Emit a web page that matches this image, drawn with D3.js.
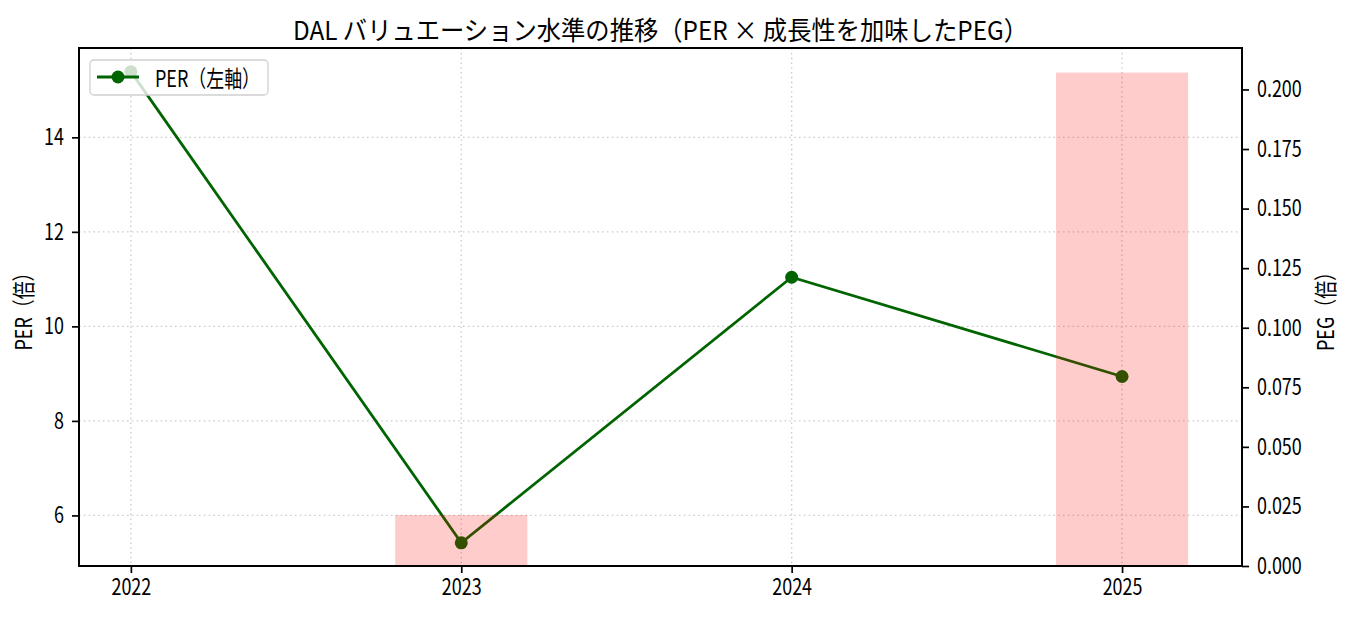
<!DOCTYPE html>
<html lang="ja">
<head>
<meta charset="UTF-8">
<title>DAL バリュエーション水準の推移</title>
<style>
  body { margin: 0; background: #fff; }
  text { font-family: "Noto Sans CJK JP", "DejaVu Sans", sans-serif; fill: #000; }
</style>
</head>
<body>
<script src="https://d3js.org/d3.v7.min.js"></script>
<script>
var width = 1351, height = 617;

// data
var years = [2022, 2023, 2024, 2025];
var perValues = [15.39, 5.42, 11.04, 8.94];
var pegYears = [2023, 2025];
var pegValues = [0.0214, 0.2071];
var perTicks = [6, 8, 10, 12, 14];
var pegTicks = [0, 0.025, 0.05, 0.075, 0.1, 0.125, 0.15, 0.175, 0.2];

var plot = {left: 79, right: 1242, top: 48, bottom: 566};
var sx = 0.78;     // squeeze text horizontally to mimic the narrow gothic font
var fs = 23;

var svg = d3.select("body").append("svg").attr("width", width).attr("height", height);

var x = d3.scaleLinear().domain([2021.843, 2025.363]).range([plot.left, plot.right]);
var yL = d3.scaleLinear().domain([4.93, 15.89]).range([plot.bottom, plot.top]);
var yR = d3.scaleLinear().domain([0, 0.2174]).range([plot.bottom, plot.top]);

// text placed at (px,py), squeezed in x
function label(px, py, str, anchor, size, rot) {
  var g = svg.append("g").attr("transform", "translate(" + px + "," + py + ")" + (rot ? " rotate(" + rot + ")" : ""));
  g.append("text").attr("transform", "scale(" + sx + ",1)")
    .attr("text-anchor", anchor).attr("dominant-baseline", "central")
    .attr("font-size", size).text(str);
  return g;
}

// grid
var grid = svg.append("g");
grid.selectAll("line.gx").data(years).enter().append("line")
  .attr("x1", function(d){ return x(d); }).attr("x2", function(d){ return x(d); })
  .attr("y1", plot.top).attr("y2", plot.bottom);
grid.selectAll("line.gy").data(perTicks).enter().append("line")
  .attr("x1", plot.left).attr("x2", plot.right)
  .attr("y1", function(d){ return yL(d); }).attr("y2", function(d){ return yL(d); });
grid.selectAll("line").attr("stroke", "#cccccc").attr("stroke-width", 1.3).attr("stroke-dasharray", "1.6,3.2");

// PER line
var line = d3.line().x(function(d, i){ return x(years[i]); }).y(function(d){ return yL(d); });
svg.append("path").datum(perValues)
  .attr("d", line).attr("fill", "none").attr("stroke", "#006400").attr("stroke-width", 2.8);
svg.selectAll("circle.per").data(perValues).enter().append("circle")
  .attr("cx", function(d, i){ return x(years[i]); })
  .attr("cy", function(d){ return yL(d); })
  .attr("r", 6.5).attr("fill", "#006400");

// PEG bars (twin axis, drawn on top)
svg.selectAll("rect.peg").data(pegValues).enter().append("rect")
  .attr("x", function(d, i){ return x(pegYears[i] - 0.2); })
  .attr("width", function(d, i){ return x(pegYears[i] + 0.2) - x(pegYears[i] - 0.2); })
  .attr("y", function(d){ return yR(d); })
  .attr("height", function(d){ return plot.bottom - yR(d); })
  .attr("fill", "red").attr("fill-opacity", 0.2);

// axes
var xAxis = d3.axisBottom(x).tickValues(years).tickFormat(d3.format("d")).tickSize(7).tickPadding(6);
var yAxisL = d3.axisLeft(yL).tickValues(perTicks).tickFormat(d3.format("d")).tickSize(7).tickPadding(8);
var yAxisR = d3.axisRight(yR).tickValues(pegTicks).tickFormat(d3.format(".3f")).tickSize(7).tickPadding(8);

svg.append("g").attr("class", "ax-x").attr("transform", "translate(0," + plot.bottom + ")").call(xAxis);
svg.append("g").attr("class", "ax-l").attr("transform", "translate(" + plot.left + ",0)").call(yAxisL);
svg.append("g").attr("class", "ax-r").attr("transform", "translate(" + plot.right + ",0)").call(yAxisR);

svg.selectAll(".tick text").each(function(){
  var t = d3.select(this);
  t.attr("x", (+t.attr("x") || 0) / sx).attr("transform", "scale(" + sx + ",1)");
}).attr("font-size", fs).attr("font-family", null);
svg.selectAll(".tick line").attr("stroke", "#000").attr("stroke-width", 1.7);
svg.selectAll(".domain").remove();

// frame
svg.append("rect").attr("x", plot.left).attr("y", plot.top)
  .attr("width", plot.right - plot.left).attr("height", plot.bottom - plot.top)
  .attr("fill", "none").attr("stroke", "#000").attr("stroke-width", 2);

// labels
svg.append("text").attr("x", (plot.left + plot.right) / 2).attr("y", 28)
  .attr("text-anchor", "middle").attr("dominant-baseline", "central").attr("font-size", 26)
  .attr("textLength", 735).attr("lengthAdjust", "spacingAndGlyphs")
  .text("DAL バリュエーション水準の推移（PER × 成長性を加味したPEG）");
label(22, (plot.top + plot.bottom) / 2, "PER（倍）", "middle", fs, -90);
label(1324, (plot.top + plot.bottom) / 2, "PEG（倍）", "middle", fs, -90);

// legend
var lg = svg.append("g");
lg.append("rect").attr("x", 90).attr("y", 60).attr("width", 178).attr("height", 35).attr("rx", 4)
  .attr("fill", "#fff").attr("fill-opacity", 0.8).attr("stroke", "#d0d0d0").attr("stroke-width", 1.3);
lg.append("line").attr("x1", 97).attr("x2", 139).attr("y1", 77).attr("y2", 77)
  .attr("stroke", "#006400").attr("stroke-width", 2.8);
lg.append("circle").attr("cx", 118).attr("cy", 77).attr("r", 6.5).attr("fill", "#006400");
label(155, 77, "PER（左軸）", "start", fs, 0);
</script>
</body>
</html>
